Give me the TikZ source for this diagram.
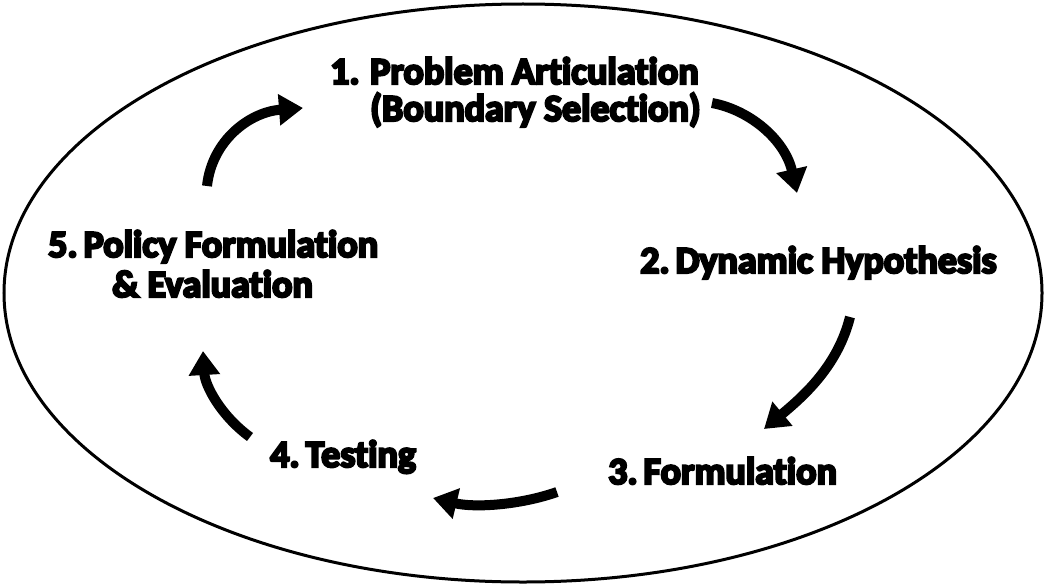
\documentclass[tikz,border=0pt]{standalone}
\usepackage{fontspec}
\setmainfont{Carlito}[Ligatures=NoCommon, RawFeature=-liga, BoldFeatures={FakeBold=6}]
\usetikzlibrary{arrows.meta,calc}
\tikzset{
  lbl/.style={anchor=base west, inner sep=0pt, font=\fontsize{38}{43}\selectfont\bfseries, align=left},
  cyc/.style={line width=10pt, -{Triangle[length=24pt,width=30pt]}},
  rim/.style={line width=3pt},
}
\begin{document}
\begin{tikzpicture}[x=1pt,y=-1pt]
\useasboundingbox (0,0) rectangle (1046,586);
\draw[rim] (523,293) ellipse [x radius=519, y radius=289];
% labels
\node[lbl] (n1a) at (330,84) {1.};
\node[lbl] (n1) at (370,84) {Problem Articulation};
\node[lbl] (n1b) at (370,121) {(Boundary Selection)};
\node[lbl] (n2) at (640,273) {2.\hspace{6pt}Dynamic Hypothesis};
\node[lbl] (n3) at (608,484) {3.\hspace{6pt}Formulation};
\node[lbl] (n4) at (270,467) {4.\hspace{6pt}Testing};
\node[lbl] (n5) at (48,257) {5.\hspace{6pt}Policy Formulation};
\node[lbl] (n5b) at (112,297) {\& Evaluation};
% arrow endpoints
\coordinate (a1) at (207,186); \coordinate (a2) at (303,108);
\coordinate (b1) at (712,103); \coordinate (b2) at (797,193);
\coordinate (c1) at (850,317); \coordinate (c2) at (764,429);
\coordinate (d1) at (557,492); \coordinate (d2) at (433,498);
\coordinate (e1) at (250,437); \coordinate (e2) at (203,351);
\draw[cyc] (a1) .. controls (212,140) and (250,112) .. (a2);
\draw[cyc] (b1) .. controls (750,110) and (785,140) .. (b2);
\draw[cyc] (c1) .. controls (838,365) and (805,395) .. (c2);
\draw[cyc] (d1) .. controls (520,505) and (475,508) .. (d2);
\draw[cyc] (e1) .. controls (220,415) and (205,385) .. (e2);
\end{tikzpicture}
\end{document}
